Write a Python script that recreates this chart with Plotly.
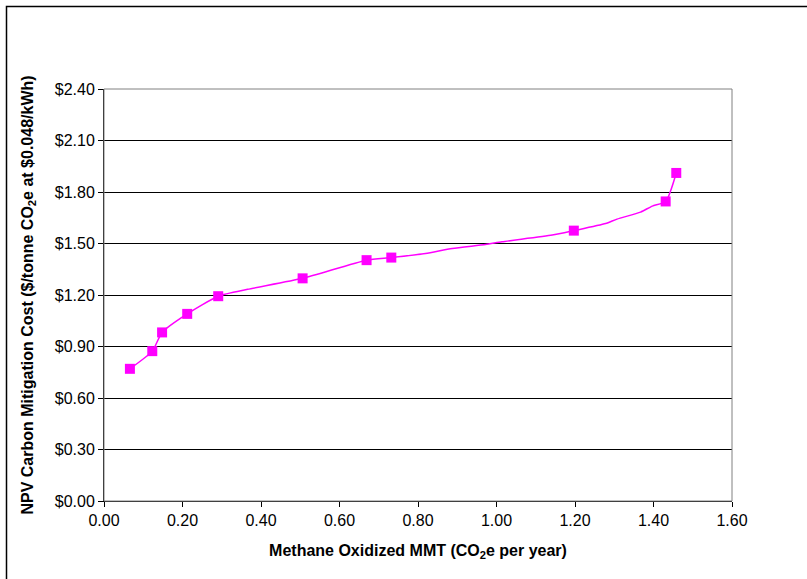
import plotly.graph_objects as go

# marker points
mx = [0.066, 0.123, 0.148, 0.212, 0.291, 0.506, 0.669, 0.732, 1.197, 1.431, 1.458]
my = [0.77, 0.873, 0.982, 1.09, 1.193, 1.297, 1.403, 1.418, 1.575, 1.745, 1.911]

# full curve points (markers plus intermediate line-only points)
lx = [0.066, 0.123, 0.148, 0.212, 0.291, 0.366, 0.506, 0.669, 0.732, 0.819, 0.887,
      0.972, 1.014, 1.142, 1.197, 1.278, 1.307, 1.367, 1.397, 1.431, 1.458]
ly = [0.77, 0.873, 0.982, 1.09, 1.193, 1.233, 1.297, 1.403, 1.418, 1.442, 1.471,
      1.494, 1.510, 1.549, 1.575, 1.616, 1.642, 1.683, 1.718, 1.745, 1.911]

xticks = [0.0, 0.2, 0.4, 0.6, 0.8, 1.0, 1.2, 1.4, 1.6]
xlabels = ["0.00", "0.20", "0.40", "0.60", "0.80", "1.00", "1.20", "1.40", "1.60"]
yticks = [0.0, 0.3, 0.6, 0.9, 1.2, 1.5, 1.8, 2.1, 2.4]
ylabels = ["$0.00", "$0.30", "$0.60", "$0.90", "$1.20", "$1.50", "$1.80", "$2.10", "$2.40"]

MAG = "#FF00FF"
fig = go.Figure()
fig.add_trace(go.Scatter(x=lx, y=ly, mode="lines",
                         line=dict(color=MAG, width=1.5, shape="spline", smoothing=0.6),
                         hoverinfo="skip", showlegend=False))
fig.add_trace(go.Scatter(x=mx, y=my, mode="markers",
                         marker=dict(symbol="square", size=10, color=MAG),
                         showlegend=False))

W, H = 807, 579
L, R, T, B = 104, 75, 89, 78
pw, ph = W - L - R, H - T - B

def px(x):
    return (x - L) / pw

def py(y):
    return (H - B - y) / ph

fig.update_layout(
    width=W, height=H,
    margin=dict(l=L, r=R, t=T, b=B),
    paper_bgcolor="white", plot_bgcolor="white",
    font=dict(family="Liberation Sans, Arial, sans-serif", size=16, color="black"),
    xaxis=dict(range=[0, 1.6], tickvals=xticks, ticktext=xlabels,
               showgrid=False, zeroline=False,
               showline=True, linecolor="black", linewidth=1,
               ticks="outside", ticklen=5, tickcolor="black",
               title=dict(text="<b>Methane Oxidized MMT (CO<sub>2</sub>e per year)</b>",
                          font=dict(size=16), standoff=16)),
    yaxis=dict(range=[0, 2.4], tickvals=yticks, ticktext=ylabels,
               showgrid=True, gridcolor="black", gridwidth=1, zeroline=False,
               showline=True, linecolor="black", linewidth=1,
               ticks="outside", ticklen=5, tickcolor="black",
               title=dict(text="<b>NPV Carbon Mitigation Cost ($/tonne CO<sub>2</sub>e at $0.048/kWh)</b>",
                          font=dict(size=16), standoff=17)),
    shapes=[
        dict(type="rect", xref="paper", yref="paper", x0=0, x1=1, y0=0, y1=1,
             line=dict(color="#808080", width=1)),
        dict(type="rect", xref="paper", yref="paper",
             x0=px(6.5), x1=px(820), y0=py(600), y1=py(6.5),
             line=dict(color="black", width=1.5)),
    ],
)

fig.write_html("out.html", config={"displayModeBar": False},
               post_script="document.body.style.margin='0';")
